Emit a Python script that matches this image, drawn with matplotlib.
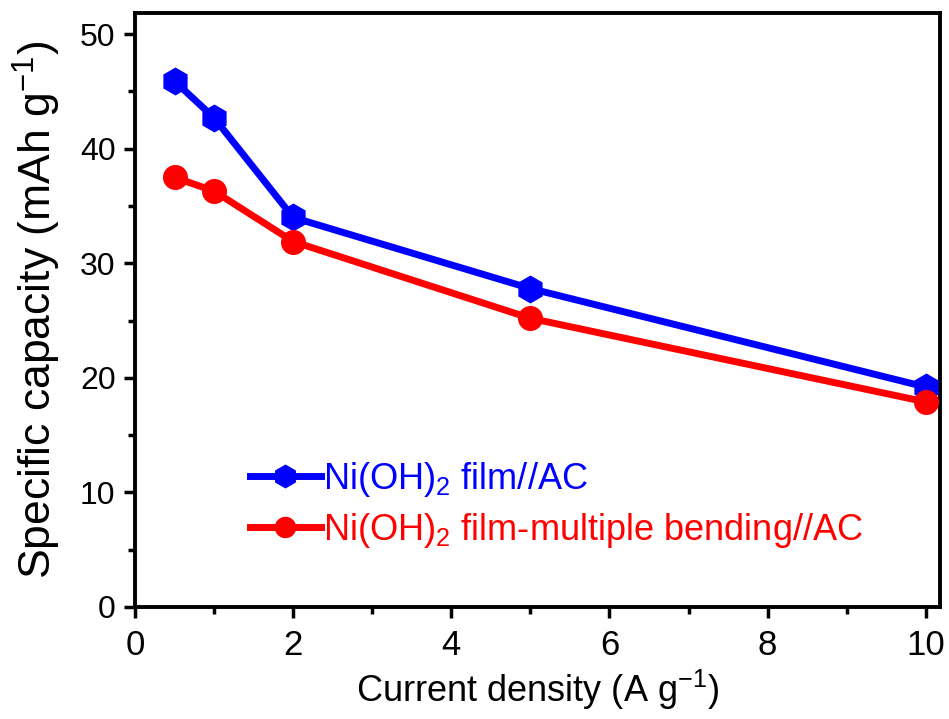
import matplotlib
matplotlib.use("Agg")
import matplotlib.pyplot as plt
from matplotlib import font_manager
from matplotlib.ticker import MultipleLocator

plt.rcParams["font.family"] = ["Liberation Sans", "DejaVu Sans"]
plt.rcParams["mathtext.fontset"] = "custom"
plt.rcParams["mathtext.rm"] = "Liberation Sans"
plt.rcParams["mathtext.default"] = "regular"

# data
current_density = [0.5, 1, 2, 5, 10]
capacity_film = [45.9, 42.7, 34.0, 27.8, 19.2]
capacity_bending = [37.5, 36.3, 31.9, 25.2, 17.9]
x_ticks = [0, 2, 4, 6, 8, 10]
y_ticks = [0, 10, 20, 30, 40, 50]
label_film = r"Ni(OH)$_2$ film//AC"
label_bending = r"Ni(OH)$_2$ film-multiple bending//AC"

# the x axis text in the reference is a condensed face
names = {f.name for f in font_manager.fontManager.ttflist}
narrow = "Liberation Sans Narrow" in names
if narrow:
    xfont = "Liberation Sans Narrow"
    xtick_size, xlabel_size = 28, 34
else:
    xfont = "Liberation Sans"
    xtick_size, xlabel_size = 25, 26

fig = plt.figure(figsize=(9.49, 7.19), dpi=100)
ax = fig.add_axes([0.1423, 0.1558, 0.8482, 0.8261])

ax.plot(current_density, capacity_film, color="#0000ff", lw=5, marker="h",
        ms=19, label=label_film, zorder=3)
ax.plot(current_density, capacity_bending, color="#ff0000", lw=5, marker="o",
        ms=17, label=label_bending, zorder=3)

ax.set_xlim(0, 10.18)
ax.set_ylim(0, 51.85)
ax.set_xticks(x_ticks)
ax.set_yticks(y_ticks)
ax.xaxis.set_minor_locator(MultipleLocator(1))
ax.yaxis.set_minor_locator(MultipleLocator(5))

for s in ax.spines.values():
    s.set_linewidth(2.8)
ax.tick_params(which="major", direction="out", length=8, width=2.5, pad=6)
ax.tick_params(which="minor", direction="out", length=5, width=2.5)
ax.tick_params(top=False, right=False, which="both")
ax.tick_params(axis="y", labelsize=23)
ax.tick_params(axis="x", labelsize=xtick_size, pad=8)
for t in ax.get_xticklabels():
    t.set_fontfamily(xfont)

ax.set_xlabel(r"Current density (A g$^{-1}$)", fontsize=xlabel_size,
              family=xfont, labelpad=4)
ax.set_ylabel(r"Specific capacity (mAh g$^{-1}$)", fontsize=32, labelpad=12)

leg = ax.legend(loc="center left", bbox_to_anchor=(0.143, 0.172),
                frameon=False, fontsize=26, handlelength=1.95,
                handletextpad=0.08, borderpad=0, borderaxespad=0,
                labelspacing=0.33, markerscale=0.85, labelcolor="linecolor")

fig.savefig("out.png", dpi=100)
